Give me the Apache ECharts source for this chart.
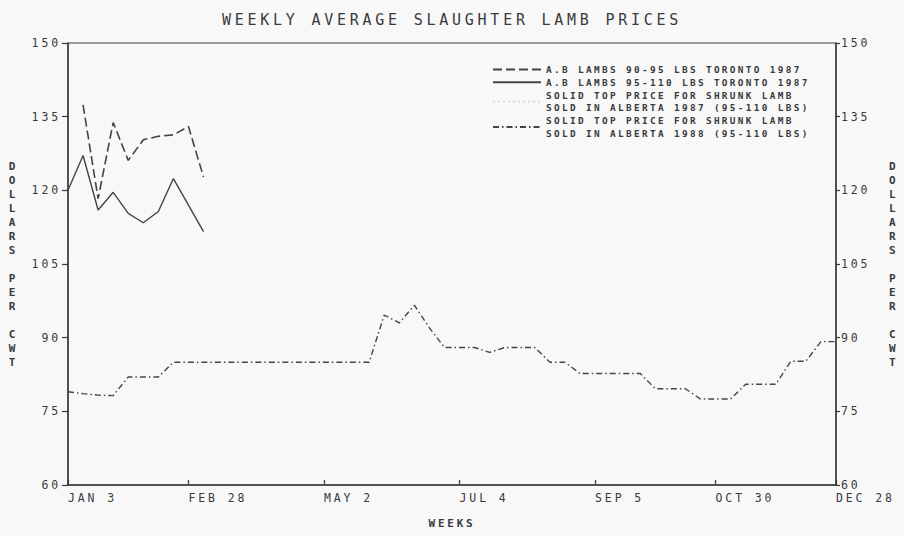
<!DOCTYPE html>
<html><head><meta charset="utf-8">
<script src="https://cdn.jsdelivr.net/npm/echarts@6/dist/echarts.min.js"></script>
<style>
html,body{margin:0;padding:0;background:#f8f8f9;}
#c{width:904px;height:536px;}
#c text{letter-spacing:0.25em;}
</style></head><body><div id="c"></div>
<script>
// ---- data ----
const titleText = 'WEEKLY AVERAGE SLAUGHTER LAMB PRICES';
const xName = 'WEEKS';
const yName = 'D\nO\nL\nL\nA\nR\nS\n\nP\nE\nR\n\nC\nW\nT';
const tickWeeks = [0, 8, 17, 26, 35, 43, 51];
const tickLabels = ['JAN 3', 'FEB 28', 'MAY 2', 'JUL 4', 'SEP 5', 'OCT 30', 'DEC 28'];
const yMin = 60, yMax = 150, yStep = 15;
const seriesNames = [
  'A.B LAMBS 90-95 LBS TORONTO 1987',
  'A.B LAMBS 95-110 LBS TORONTO 1987',
  'SOLID TOP PRICE FOR SHRUNK LAMB\nSOLD IN ALBERTA 1987 (95-110 LBS)',
  'SOLID TOP PRICE FOR SHRUNK LAMB\nSOLD IN ALBERTA 1988 (95-110 LBS)'
];
// values by week index (week 0 = JAN 3)
const toronto9095 = [null, 137.4, 118.3, 133.8, 126.1, 130.3, 131.0, 131.3, 133.0, 122.7];
const toronto95110 = [120, 127.1, 116.0, 119.6, 115.3, 113.4, 115.7, 122.4, 117.0, 111.6];
const alberta1987 = [];
const alberta1988 = [79, 78.6, 78.3, 78.2, 82, 82, 82,
  85, 85, 85, 85, 85, 85, 85, 85, 85, 85, 85, 85, 85, 85,
  94.6, 93, 96.6, 92, 88, 88, 88, 87, 88, 88, 88, 85, 85,
  82.7, 82.7, 82.7, 82.7, 82.7, 79.6, 79.6, 79.6, 77.5, 77.5, 77.5,
  80.5, 80.5, 80.5, 85.2, 85.2, 89.2, 89.2];

// ---- chart ----
const ink = '#3a3a3c';
const mono = 'DejaVu Sans Mono';
const pairs = arr => arr.map((v, i) => [i, v]);
const chart = echarts.init(document.getElementById('c'), null, {renderer: 'svg'});
const yAxisBase = {
  type: 'value', min: yMin, max: yMax, interval: yStep,
  splitLine: {show: false},
  axisLine: {show: true, lineStyle: {color: ink, width: 1.5}},
  axisTick: {show: true, length: 6, lineStyle: {color: ink, width: 1.2}},
  axisLabel: {color: ink, fontFamily: mono, fontSize: 11.5, margin: 7},
  name: yName, nameLocation: 'middle', nameRotate: 0,
  nameTextStyle: {color: ink, fontFamily: mono, fontSize: 11, fontWeight: 'bold', lineHeight: 14, padding: [0, 0, 36, 0]}
};
const lineBase = {type: 'line', showSymbol: false, symbol: 'none', animation: false};
chart.setOption({
  backgroundColor: '#f8f8f9',
  animation: false,
  title: {
    text: titleText, left: 'center', top: 7,
    textStyle: {color: ink, fontFamily: mono, fontSize: 15, fontWeight: 'normal'}
  },
  grid: {left: 68, right: 68, top: 43, bottom: 51, show: true, borderColor: ink, borderWidth: 1},
  legend: {
    orient: 'vertical', left: 487, top: 58, itemWidth: 48, itemHeight: 10, itemGap: 0,
    data: seriesNames,
    itemStyle: {opacity: 0},
    textStyle: {color: ink, fontFamily: mono, fontSize: 9.4, fontWeight: 'bold', lineHeight: 12.8}
  },
  xAxis: {
    type: 'value', min: 0, max: 51,
    name: xName, nameLocation: 'middle', nameGap: 33,
    nameTextStyle: {color: ink, fontFamily: mono, fontSize: 11, fontWeight: 'bold'},
    splitLine: {show: false},
    axisLine: {show: true, onZero: false, lineStyle: {color: ink, width: 1.5}},
    axisTick: {show: true, inside: true, length: 5, customValues: tickWeeks, lineStyle: {color: ink, width: 1.2}},
    axisLabel: {
      customValues: tickWeeks, color: ink, fontFamily: mono, fontSize: 11.5, margin: 7, align: 'left',
      formatter: v => tickLabels[tickWeeks.indexOf(v)] || ''
    }
  },
  yAxis: [
    Object.assign({}, yAxisBase, {position: 'left', nameGap: 50}),
    Object.assign({}, yAxisBase, {position: 'right', nameGap: 53,
      axisTick: {show: true, length: 4, inside: false, lineStyle: {color: ink, width: 1.2}},
      axisLabel: {color: ink, fontFamily: mono, fontSize: 11.5, margin: 5}})
  ],
  series: [
    Object.assign({}, lineBase, {name: seriesNames[0], data: pairs(toronto9095),
      lineStyle: {color: '#444446', width: 1.6, type: [9, 4]}, itemStyle: {color: '#444446'}}),
    Object.assign({}, lineBase, {name: seriesNames[1], data: pairs(toronto95110),
      lineStyle: {color: '#444446', width: 1.4, type: 'solid'}, itemStyle: {color: '#444446'}}),
    Object.assign({}, lineBase, {name: seriesNames[2], data: pairs(alberta1987),
      lineStyle: {color: '#dcdce0', width: 1, type: [2, 3]}, itemStyle: {color: '#dcdce0'}}),
    Object.assign({}, lineBase, {name: seriesNames[3], data: pairs(alberta1988),
      lineStyle: {color: '#444446', width: 1.4, type: [6, 3, 1.5, 3]}, itemStyle: {color: '#444446'}})
  ]
});
</script>
</body></html>
